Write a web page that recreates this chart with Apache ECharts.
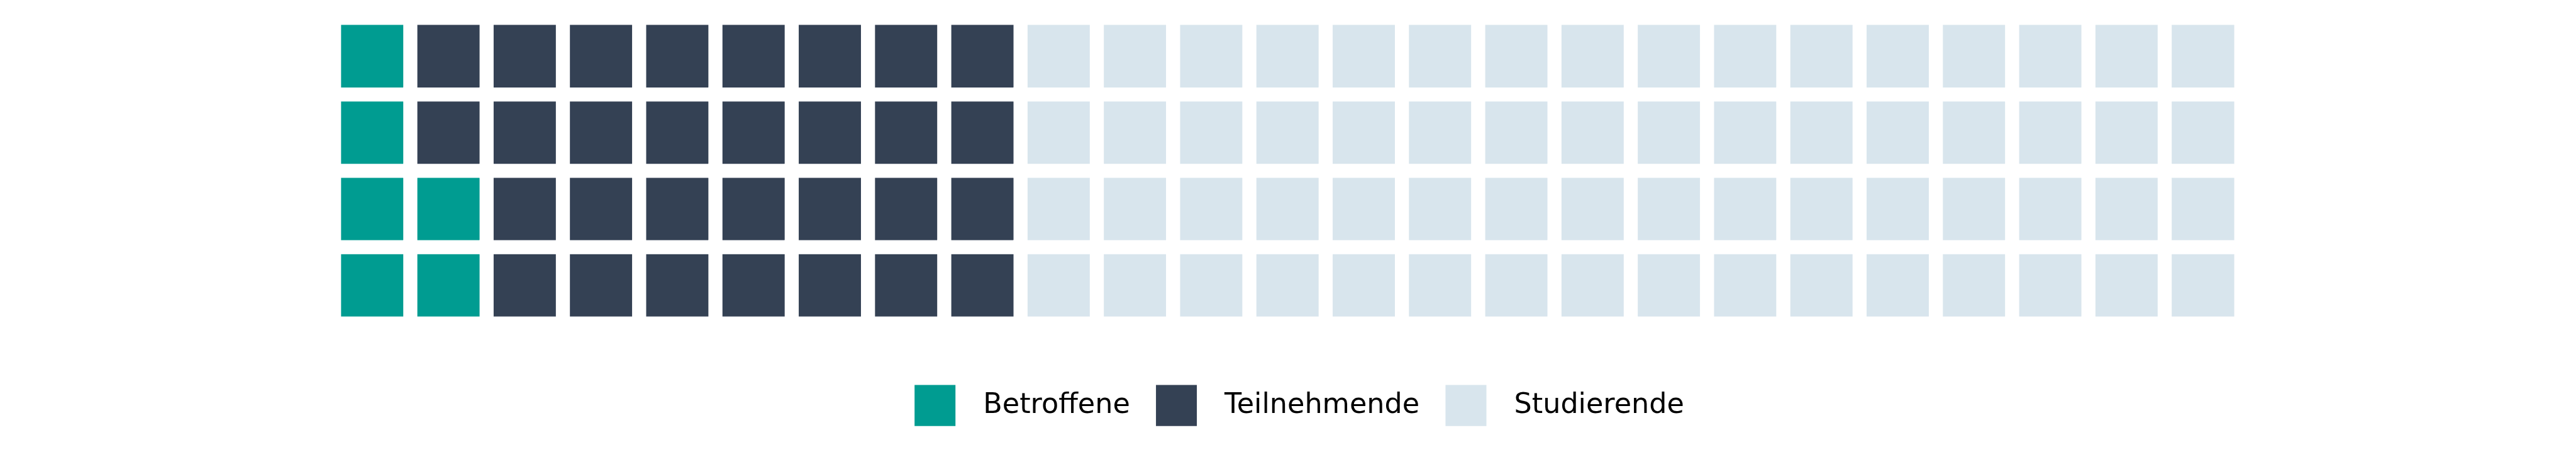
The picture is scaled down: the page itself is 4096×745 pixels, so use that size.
<!DOCTYPE html>
<html>
<head>
<meta charset="utf-8">
<script src="https://cdn.jsdelivr.net/npm/echarts@6/dist/echarts.min.js"></script>
<style>
html,body{margin:0;padding:0;background:#fff;}
#chart{width:4096px;height:745px;}
</style>
</head>
<body>
<div id="chart"></div>
<script>
// ---- data ----
const categories = ['Betroffene', 'Teilnehmende', 'Studierende'];
const counts = [6, 30, 64];
const colors = ['#009C91', '#344154', '#D8E5ED'];
const nCols = 25;
const nRows = 4;
const colLabels = Array.from({length: nCols}, (_, i) => String(i + 1));
const rowLabels = Array.from({length: nRows}, (_, i) => String(i + 1));

// build waffle cells: column by column, bottom row first
const cellsPerCategory = categories.map(() => []);
let idx = 0;
counts.forEach((n, ci) => {
  for (let k = 0; k < n; k++, idx++) {
    const col = Math.floor(idx / nRows);
    const row = idx % nRows;
    cellsPerCategory[ci].push([col, row, 1]);
  }
});

const s = 4096 / 7700;
const chart = echarts.init(document.getElementById('chart'), null, {renderer: 'canvas'});
chart.setOption({
  animation: false,
  backgroundColor: '#ffffff',
  grid: {left: 999 * s, top: 53.7 * s, width: 5700 * s, height: 912 * s, containLabel: false},
  xAxis: {type: 'category', data: colLabels, show: false},
  yAxis: {type: 'category', data: rowLabels, show: false},
  legend: {
    data: categories,
    left: 2730 * s,
    top: 1146 * s,
    padding: 0,
    icon: 'rect',
    itemWidth: 126 * s,
    itemHeight: 126 * s,
    itemGap: 39.3,
    textStyle: {
      fontFamily: 'DejaVu Sans',
      fontSize: 44.5,
      color: '#000000',
      padding: [3, 0, 0, 38]
    }
  },
  series: categories.map((name, i) => ({
    name: name,
    type: 'heatmap',
    data: cellsPerCategory[i],
    itemStyle: {color: colors[i], borderColor: '#ffffff', borderWidth: 42 * s},
    emphasis: {disabled: true},
    label: {show: false}
  }))
});
</script>
</body>
</html>
